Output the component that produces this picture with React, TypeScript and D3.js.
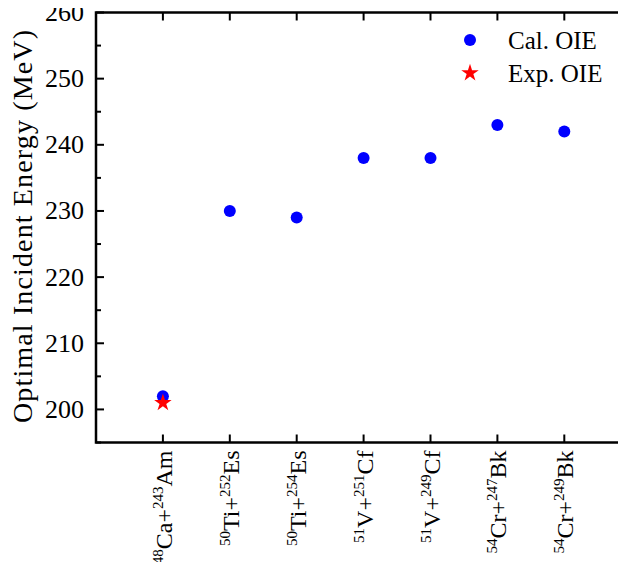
import * as d3 from 'd3';

// reactions: projectile mass number, projectile, target mass number, target
const projA = ['48', '50', '50', '51', '51', '54', '54'];
const projEl = ['Ca', 'Ti', 'Ti', 'V', 'V', 'Cr', 'Cr'];
const targA = ['243', '252', '254', '251', '249', '247', '249'];
const targEl = ['Am', 'Es', 'Es', 'Cf', 'Cf', 'Bk', 'Bk'];

const calOIE = [202, 230, 229, 238, 238, 243, 242];
const expOIE = [201, null, null, null, null, null, null];

const yTicks = [200, 210, 220, 230, 240, 250, 260];

const W = 626;
const H = 570;
const M = { left: 96, top: 12.5, bottom: 442.5 };
const FONT = 'Liberation Serif';

const x = d3.scaleLinear().domain([0, 8]).range([M.left, M.left + 8 * 66.9]);
const y = d3.scaleLinear().domain([195, 260]).range([M.bottom, M.top]);
const right = x(8);
const cats = d3.range(1, 8);
const minor = d3.range(195, 261, 5).filter(v => v % 10 !== 0);
const star = d3.symbol().type(d3.symbolStar).size(95)() as string;

function Tick({ x1, y1, x2, y2 }: { x1: number; y1: number; x2: number; y2: number }) {
  return <line x1={x1} y1={y1} x2={x2} y2={y2} stroke="#000" strokeWidth={2} />;
}

export default function App() {
  return (
    <div style={{ margin: -8 }}>
      <svg width={W} height={H} style={{ display: 'block' }}>
        <rect x={M.left} y={M.top} width={right - M.left} height={M.bottom - M.top}
          fill="none" stroke="#000" strokeWidth={2.5} />

        {cats.map(c => <Tick key={`b${c}`} x1={x(c)} y1={M.bottom} x2={x(c)} y2={M.bottom - 8} />)}
        {cats.map(c => <Tick key={`t${c}`} x1={x(c)} y1={M.top} x2={x(c)} y2={M.top + 8} />)}
        {yTicks.map(v => <Tick key={`l${v}`} x1={M.left} y1={y(v)} x2={M.left + 8} y2={y(v)} />)}
        {yTicks.map(v => <Tick key={`r${v}`} x1={right} y1={y(v)} x2={right - 8} y2={y(v)} />)}
        {minor.map(v => <Tick key={`lm${v}`} x1={M.left} y1={y(v)} x2={M.left + 5} y2={y(v)} />)}
        {minor.map(v => <Tick key={`rm${v}`} x1={right} y1={y(v)} x2={right - 5} y2={y(v)} />)}

        {yTicks.map(v => (
          <text key={v} x={M.left - 12} y={y(v) + 8.5} fontSize={26} textAnchor="end"
            style={{ fontFamily: FONT }}>{v}</text>
        ))}

        <text transform="translate(32,226.5) rotate(-90)" textAnchor="middle"
          fontSize={28} textLength={393} lengthAdjust="spacing"
          style={{ fontFamily: FONT }}>Optimal Incident Energy (MeV)</text>

        {cats.map((c, i) => (
          <text key={c} transform={`translate(${x(c) + 9},${M.bottom + 8}) rotate(-90)`}
            textAnchor="end" fontSize={24} style={{ fontFamily: FONT }}>
            <tspan dy={-9} fontSize={15}>{projA[i]}</tspan>
            <tspan dy={9}>{`${projEl[i]}+`}</tspan>
            <tspan dy={-9} fontSize={15}>{targA[i]}</tspan>
            <tspan dy={9}>{targEl[i]}</tspan>
          </text>
        ))}

        {calOIE.map((v, i) => (
          <circle key={i} cx={x(i + 1)} cy={y(v)} r={6} fill="#0000ff" />
        ))}
        {expOIE.map((v, i) => v == null ? null : (
          <path key={i} d={star} transform={`translate(${x(i + 1)},${y(v)})`} fill="#ff0000" />
        ))}

        <circle cx={470} cy={40} r={6} fill="#0000ff" />
        <path d={star} transform="translate(470,73)" fill="#ff0000" />
        <text x={508} y={49} fontSize={25} style={{ fontFamily: FONT }}>Cal. OIE</text>
        <text x={508} y={82} fontSize={25} style={{ fontFamily: FONT }}>Exp. OIE</text>
      </svg>
    </div>
  );
}
